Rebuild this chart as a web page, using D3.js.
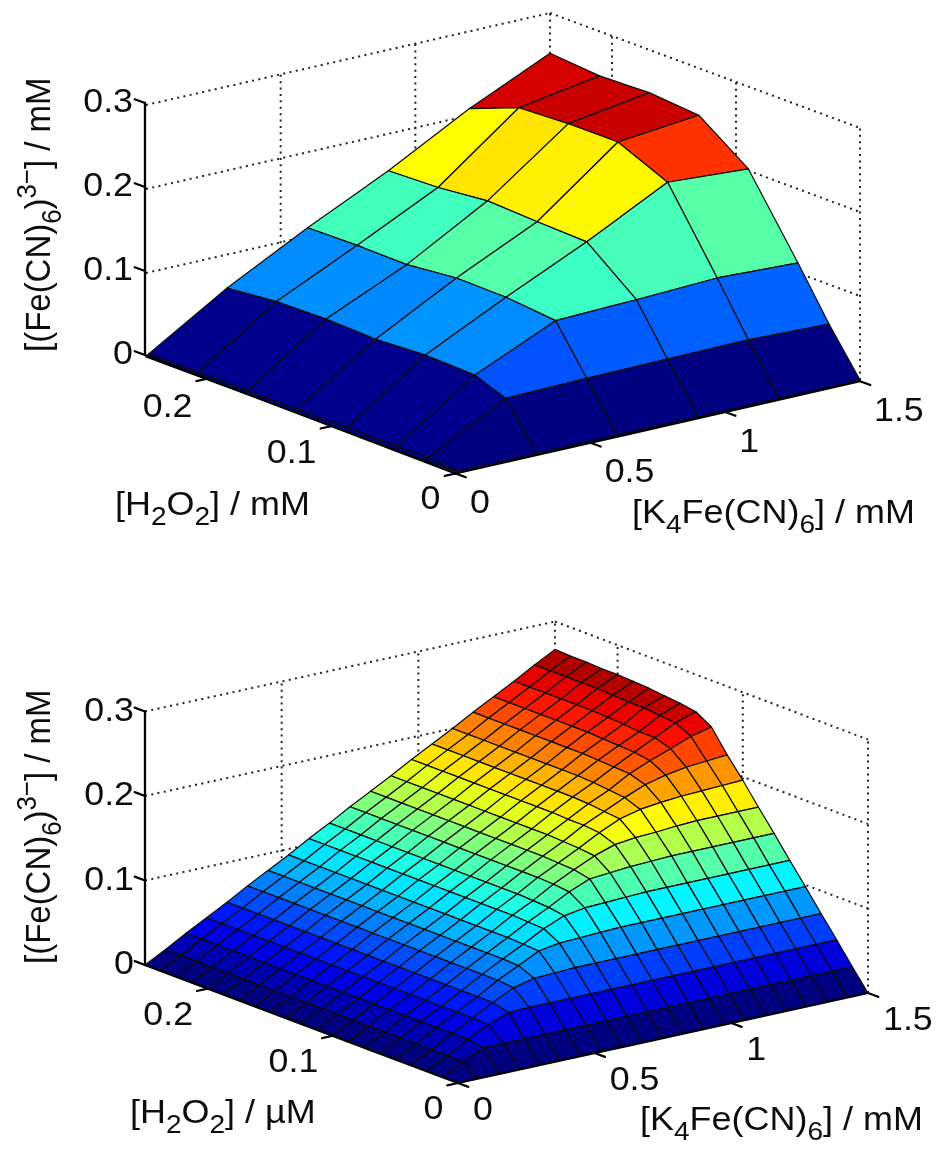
<!DOCTYPE html>
<html>
<head>
<meta charset="utf-8">
<script src="https://cdnjs.cloudflare.com/ajax/libs/d3/7.8.5/d3.min.js"></script>
<style>
html,body{margin:0;padding:0;background:#fff}
svg{display:block}
text{font-family:"Liberation Sans",Arial,sans-serif;fill:#111}
</style>
</head>
<body>
<svg id="c" width="937" height="1151"></svg>
<script>
// ---------- data ----------
const xTicks = [0, 0.5, 1, 1.5];
const yTicks = [0, 0.1, 0.2];
const zTicks = [0, 0.1, 0.2, 0.3];
const xTickLabels = ["0", "0.5", "1", "1.5"];
const yTickLabels = ["0", "0.1", "0.2"];
const zTickLabels = ["0", "0.1", "0.2", "0.3"];

const topX = [0, 0.01, 0.3, 0.6, 0.9, 1.2, 1.5];
const topY = [0, 0.025, 0.05, 0.09, 0.13, 0.17, 0.21, 0.25];
const topZ = [
 [0,0,0,0,0,0,0],
 [0,.003,.052,.054,.055,.056,.053],
 [0,.003,.066,.109,.112,.116,.112],
 [0,.003,.068,.115,.159,.208,.202],
 [0,.003,.065,.116,.161,.234,.244],
 [0,.003,.067,.110,.164,.234,.249],
 [0,.003,.066,.111,.158,.231,.247],
 [0,.003,.060,.110,.156,.208,.252]
];

const botX = [0,.075,.15,.225,.3,.375,.45,.525,.6,.675,.75,.825,.9,.975,1.05,1.125,1.2,1.275,1.35,1.425,1.5];
const botY = [0,.0125,.025,.0375,.05,.0625,.075,.0875,.1,.1125,.125,.1375,.15,.1625,.175,.1875,.2,.2125,.225,.2375,.25];
const botZ = [
 [0,0,0,0,0,0,0,0,0,0,0,0,0,0,0,0,0,0,0,0,0],
 [0,.013,.024,.024,.024,.024,.024,.024,.024,.024,.024,.024,.024,.024,.024,.024,.024,.024,.024,.024,.024],
 [0,.013,.027,.039,.048,.049,.049,.049,.049,.049,.049,.049,.049,.049,.049,.049,.049,.049,.049,.049,.049],
 [0,.013,.027,.040,.053,.065,.071,.072,.073,.073,.073,.073,.073,.073,.073,.073,.073,.073,.073,.073,.073],
 [0,.013,.027,.040,.053,.067,.079,.091,.095,.096,.097,.098,.098,.098,.098,.098,.098,.098,.098,.098,.098],
 [0,.013,.027,.040,.053,.067,.080,.092,.105,.115,.119,.120,.121,.122,.122,.122,.122,.122,.122,.122,.122],
 [0,.013,.027,.040,.053,.067,.080,.093,.106,.118,.131,.141,.143,.145,.146,.147,.147,.147,.147,.147,.147],
 [0,.013,.027,.040,.053,.067,.080,.093,.107,.119,.133,.145,.156,.164,.167,.168,.170,.171,.171,.171,.171],
 [0,.013,.027,.040,.053,.067,.080,.093,.107,.120,.134,.146,.158,.171,.182,.188,.191,.193,.194,.195,.196],
 [0,.013,.027,.040,.053,.067,.080,.093,.107,.120,.134,.147,.159,.173,.184,.195,.205,.211,.215,.217,.219],
 [0,.013,.027,.040,.053,.067,.080,.093,.107,.120,.134,.147,.160,.173,.186,.197,.211,.221,.230,.239,.245],
 [0,.013,.027,.040,.053,.067,.080,.093,.107,.120,.134,.147,.160,.174,.187,.199,.212,.224,.236,.248,.256],
 [0,.013,.027,.040,.053,.067,.080,.093,.107,.120,.134,.147,.160,.174,.187,.200,.213,.225,.236,.250,.259],
 [0,.013,.027,.040,.053,.067,.080,.093,.107,.120,.134,.147,.160,.174,.187,.200,.214,.226,.238,.252,.261],
 [0,.013,.027,.040,.053,.067,.080,.093,.107,.120,.134,.147,.160,.174,.187,.200,.214,.227,.239,.252,.263],
 [0,.013,.027,.040,.053,.067,.080,.093,.107,.120,.134,.147,.160,.174,.187,.200,.214,.227,.240,.253,.264],
 [0,.013,.027,.040,.053,.067,.080,.093,.107,.120,.134,.147,.160,.174,.187,.200,.214,.227,.240,.254,.265],
 [0,.013,.027,.040,.053,.067,.080,.093,.107,.120,.134,.147,.160,.174,.187,.200,.214,.227,.240,.254,.265],
 [0,.013,.027,.040,.053,.067,.080,.093,.107,.120,.134,.147,.160,.174,.187,.200,.214,.227,.240,.254,.266],
 [0,.013,.027,.040,.053,.067,.080,.093,.107,.120,.134,.147,.160,.174,.187,.200,.214,.227,.240,.254,.266],
 [0,.013,.027,.040,.053,.067,.080,.093,.107,.120,.134,.147,.160,.174,.187,.200,.214,.227,.240,.254,.267]
];

// label pieces: [text, "sub" | "sup" | ""]
const zLabel = [["[(Fe(CN)",""],["6","sub"],[")",""],["3\u2212","sup"],["] / mM",""]];
const xLabel = [["[K",""],["4","sub"],["Fe(CN)",""],["6","sub"],["] / mM",""]];
const yLabelTop = [["[H",""],["2","sub"],["O",""],["2","sub"],["] / mM",""]];
const yLabelBot = [["[H",""],["2","sub"],["O",""],["2","sub"],["] / \u00B5M",""]];

// jet colormap stops
const jetStops = [0, .125, .375, .625, .875, 1];
const jetColors = ["#000080", "#0000ff", "#00ffff", "#ffff00", "#ff0000", "#800000"];

// ---------- layout ----------
const xDomain = [0, 1.5], yDomain = [0, 0.25], zDomain = [0, 0.3];
const svg = d3.select("#c");
const soft = svg.append("defs").append("filter").attr("id", "soft")
  .attr("x", 0).attr("y", 0).attr("width", 1).attr("height", 1)
  .attr("filterUnits", "userSpaceOnUse").attr("width", 937).attr("height", 1151);
soft.append("feGaussianBlur").attr("stdDeviation", 0.4);
const root = svg.append("g").attr("filter", "url(#soft)");
const FS = 33, STRETCH = 1.085;

function drawRichText(g, pieces, size) {
  const t = g.append("text").attr("font-size", size);
  let shift = 0;
  pieces.forEach(([s, kind]) => {
    const target = kind === "sub" ? size * .3 : kind === "sup" ? -size * .4 : 0;
    t.append("tspan")
      .attr("dy", target - shift)
      .attr("font-size", kind ? size * .78 : size)
      .text(s);
    shift = target;
  });
  return t;
}

function panel(p) {
  const g = root.append("g");
  const xpx = d3.scaleLinear(xDomain, [0, p.xv[0]]), xpy = d3.scaleLinear(xDomain, [0, p.xv[1]]);
  const ypx = d3.scaleLinear(yDomain, [0, p.yv[0]]), ypy = d3.scaleLinear(yDomain, [0, p.yv[1]]);
  const zpy = d3.scaleLinear(zDomain, [0, -p.zh]);
  const proj = (x, y, z) => [p.o[0] + xpx(x) + ypx(y), p.o[1] + xpy(x) + ypy(y) + zpy(z)];
  const line = d3.line();
  const xMax = xDomain[1], yMax = yDomain[1], zMax = zDomain[1];

  // dotted back-wall grid
  const grid = [];
  zTicks.filter(z => z > 0).forEach(z => {
    grid.push([proj(0, yMax, z), proj(xMax, yMax, z)]);
    grid.push([proj(xMax, yMax, z), proj(xMax, 0, z)]);
  });
  xTicks.filter(x => x > 0 && x < xMax).forEach(x => grid.push([proj(x, yMax, 0), proj(x, yMax, zMax)]));
  yTicks.filter(y => y > 0).forEach(y => grid.push([proj(xMax, y, 0), proj(xMax, y, zMax)]));
  grid.push([proj(xMax, yMax, 0), proj(xMax, yMax, zMax)]);
  grid.push([proj(xMax, 0, 0), proj(xMax, 0, zMax)]);
  g.append("g").selectAll("path").data(grid).join("path")
    .attr("d", d => line(d)).attr("fill", "none")
    .attr("stroke", "#222").attr("stroke-width", 2)
    .attr("stroke-dasharray", "2 4.4");

  // surface
  const cMax = d3.max(p.z.flat());
  const jet = d3.scaleLinear(jetStops.map(s => s * cMax), jetColors).clamp(true);
  const faces = [];
  for (let k = 0; k < p.ys.length - 1; k++) for (let i = 0; i < p.xs.length - 1; i++) {
    faces.push({
      pts: [[i, k], [i + 1, k], [i + 1, k + 1], [i, k + 1]].map(([a, b]) => proj(p.xs[a], p.ys[b], p.z[b][a])),
      c: jet(p.z[k][i]),
      depth: p.xs[i] / xMax + p.ys[k] / yMax
    });
  }
  faces.sort((a, b) => b.depth - a.depth);
  g.append("g").selectAll("path").data(faces).join("path")
    .attr("d", d => line(d.pts) + "Z")
    .attr("fill", d => d.c).attr("stroke", "#0a0a0a")
    .attr("stroke-width", p.mesh).attr("stroke-linejoin", "round");

  // axes (slightly offset from the surface floor, as in the figure)
  const ax = g.append("g").attr("stroke", "#000").attr("fill", "none").attr("stroke-linecap", "round");
  const seg = (a, b, w) => ax.append("path").attr("d", line([a, b])).attr("stroke-width", w);
  const off = (x, y) => {
    const xf = x / xMax, yf = y / yMax, w = 1 - xf - yf;
    return [0, 1].map(n => w * p.dO[n] + xf * p.dX[n] + yf * p.dY[n]);
  };
  const aproj = (x, y, z) => {
    const a = proj(x, y, z), d = off(x, y);
    return [a[0] + d[0], a[1] + d[1]];
  };
  seg(aproj(0, yMax, 0), aproj(0, yMax, zMax), 2.3);
  seg(aproj(0, 0, 0), aproj(0, yMax, 0), 2.3);
  seg(aproj(0, 0, 0), aproj(xMax, 0, 0), 2.3);
  const TL = 11;
  const yn = Math.hypot(p.yv[0], p.yv[1]), xn = Math.hypot(p.xv[0], p.xv[1]);
  const yd = [p.yv[0] / yn * TL, p.yv[1] / yn * TL], xd = [p.xv[0] / xn * TL, p.xv[1] / xn * TL];
  zTicks.forEach(z => { const a = aproj(0, yMax, z); seg(a, [a[0] + yd[0], a[1] + yd[1]], 2.2); });
  xTicks.forEach(x => { const a = aproj(x, 0, 0); seg(a, [a[0] - yd[0], a[1] - yd[1]], 2.2); });
  yTicks.forEach(y => { const a = aproj(0, y, 0); seg(a, [a[0] - xd[0], a[1] - xd[1]], 2.2); });

  // tick labels (the figure is stretched horizontally)
  const tl = g.append("g").attr("font-size", FS);
  const put = (x, y, anchor, s) => tl.append("text")
    .attr("transform", `translate(${x},${y}) scale(${STRETCH},1)`)
    .attr("text-anchor", anchor).text(s);
  zTicks.forEach((z, n) => { const a = aproj(0, yMax, z); put(p.zt[0], a[1] + p.zt[1], "end", zTickLabels[n]); });
  yTicks.forEach((y, n) => { const a = proj(0, y, 0); put(a[0] + p.yt[0], a[1] + p.yt[1], "end", yTickLabels[n]); });
  xTicks.forEach((x, n) => { const a = proj(x, 0, 0); put(a[0] + p.xt[0], a[1] + p.xt[1], "start", xTickLabels[n]); });

  // axis labels
  drawRichText(g, xLabel, p.ls).attr("transform", `translate(${p.xl[0]},${p.xl[1]}) scale(1.09,1)`);
  drawRichText(g, p.yLabel, p.ls).attr("transform", `translate(${p.yl[0]},${p.yl[1]}) scale(1.09,1)`);
  drawRichText(g, zLabel, p.ls).attr("transform", `translate(${p.zl[0]},${p.zl[1]}) scale(1.09,1) rotate(-90)`);
}

panel({
  xs: topX, ys: topY, z: topZ, yLabel: yLabelTop,
  o: [456, 472], xv: [404, -92], yv: [-310, -115], zh: 252, mesh: 1.2,
  dO: [-.5, 1.5], dX: [0, 1.2], dY: [-1, -2],
  zt: [133, 9], yt: [-15.5, 37], xt: [14, 41], ls: 33,
  xl: [632, 523], yl: [115, 515], zl: [50, 352]
});
panel({
  xs: botX, ys: botY, z: botZ, yLabel: yLabelBot,
  o: [458, 1083], xv: [410, -90], yv: [-313, -118], zh: 253.5, mesh: 1.2,
  dO: [0, 0], dX: [0, 0], dY: [0, 0],
  zt: [134, 9], yt: [-14.5, 36], xt: [15, 37], ls: 33,
  xl: [640, 1130], yl: [130, 1123], zl: [50, 964]
});
</script>
</body>
</html>
